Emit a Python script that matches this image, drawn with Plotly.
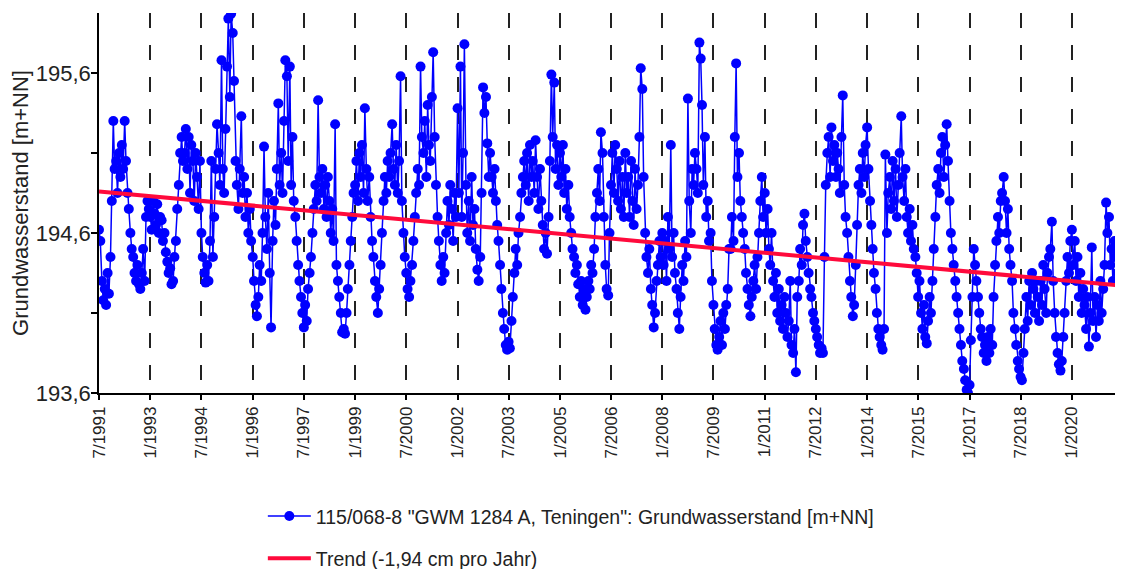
import pandas as pd
import plotly.graph_objects as go

# ---- groundwater level readings (m+NN), semi-monthly (1st and 15th) ----
y1991 = [194.62, 194.55, 194.30, 194.18, 194.25, 194.15, 194.35, 194.22, 194.45, 194.80, 195.30, 195.00]
y1992 = [195.05, 194.85, 195.10, 194.95, 195.15, 195.00, 195.30, 195.05, 194.85, 194.75, 194.60, 194.50,
         194.45, 194.35, 194.30, 194.40, 194.28, 194.25, 194.35, 194.50, 194.30, 194.70, 194.80, 194.75]
y1993 = [194.70, 194.62, 194.80, 194.72, 194.65, 194.78, 194.60, 194.70, 194.68, 194.55, 194.60, 194.48,
         194.42, 194.35, 194.38, 194.28, 194.30, 194.45, 194.55, 194.75, 194.90, 195.10, 195.20, 195.05]
y1994 = [195.10, 195.25, 195.00, 195.20, 194.85, 195.15, 195.05, 194.80, 195.10, 194.95, 194.75, 195.05,
         194.60, 194.45, 194.35, 194.29, 194.40, 194.30, 194.55, 195.05, 194.45, 194.70, 195.00, 195.28]
y1995 = [195.10, 194.90, 195.68, 195.00, 194.85, 195.25, 195.64, 195.94, 195.45, 195.97, 195.85, 195.55,
         195.05, 194.90, 194.75, 195.00, 195.33, 194.85, 194.95, 194.70, 194.85, 194.60, 194.75, 194.55]
y1996 = [194.45, 194.30, 194.15, 194.08, 194.20, 194.40, 194.30, 194.60, 195.14, 194.70, 194.50, 194.85,
         194.35, 194.01, 194.55, 194.80, 194.65, 195.00, 195.41, 194.90, 195.10, 194.85, 195.30, 195.68]
y1997 = [195.58, 195.05, 195.64, 194.90, 195.20, 194.80, 194.70, 194.55, 194.40, 194.30, 194.20, 194.10,
         194.01, 194.15, 194.05, 194.25, 194.35, 194.45, 194.60, 194.75, 194.90, 194.80, 195.43, 194.95]
y1998 = [194.85, 195.00, 194.75, 194.90, 194.70, 194.95, 194.80, 194.60, 194.75, 194.55, 195.28, 194.40,
         194.30, 194.20, 194.10, 193.98, 194.00, 193.97, 194.10, 194.25, 194.40, 194.55, 194.70, 194.85]
y1999 = [194.90, 195.05, 194.80, 195.10, 194.95, 195.15, 194.85, 195.38, 195.00, 194.80, 194.95, 194.70,
         194.55, 194.45, 194.30, 194.20, 194.10, 194.25, 194.40, 194.60, 194.80, 194.95, 194.85, 195.05]
y2000 = [194.95, 195.10, 195.28, 195.00, 194.90, 195.15, 194.85, 195.05, 195.58, 194.80, 194.60, 194.45,
         194.35, 194.25, 194.20, 194.30, 194.40, 194.55, 194.70, 194.85, 195.00, 194.90, 195.64, 195.20]
y2001 = [195.10, 195.30, 194.95, 195.40, 195.15, 195.05, 195.45, 195.73, 195.20, 194.90, 194.70, 194.55,
         194.40, 194.30, 194.45, 194.35, 194.60, 194.80, 194.65, 194.90, 194.75, 194.55, 194.85, 194.70]
y2002 = [195.38, 194.85, 195.64, 194.70, 195.10, 195.78, 194.90, 194.60, 194.80, 194.55, 194.95, 194.65,
         194.75, 194.50, 194.37, 194.30, 194.45, 194.85, 195.51, 195.35, 195.45, 195.16, 194.95, 195.10]
y2003 = [194.95, 194.85, 195.00, 194.80, 194.65, 194.55, 194.40, 194.25, 194.10, 194.00, 193.90, 193.87,
         193.92, 193.88, 194.05, 194.20, 194.35, 194.50, 194.40, 194.60, 194.70, 194.85, 194.95, 195.05]
y2004 = [194.90, 195.10, 194.80, 195.15, 194.95, 195.05, 194.85, 195.18, 194.95, 194.75, 195.00, 194.80,
         194.65, 194.50, 194.60, 194.47, 194.70, 195.05, 195.59, 195.20, 195.54, 195.00, 195.15, 194.90]
y2005 = [195.10, 194.95, 195.15, 194.85, 195.00, 194.75, 194.90, 194.70, 194.60, 194.50, 194.45, 194.35,
         194.40, 194.28, 194.20, 194.30, 194.15, 194.25, 194.12, 194.20, 194.30, 194.25, 194.40, 194.35]
y2006 = [194.50, 194.70, 194.85, 195.00, 194.80, 195.23, 195.10, 194.70, 194.40, 194.25, 194.21, 194.60,
         194.90, 195.10, 194.85, 195.15, 195.00, 194.80, 195.05, 194.75, 194.95, 194.70, 195.10, 194.85]
y2007 = [194.95, 194.70, 195.05, 194.80, 194.65, 195.00, 194.75, 194.90, 195.20, 195.63, 195.50, 194.95,
         194.60, 194.45, 194.35, 194.50, 194.25, 194.15, 194.01, 194.10, 194.30, 194.40, 194.55, 194.45]
y2008 = [194.60, 194.40, 194.55, 194.30, 194.70, 194.50, 195.15, 194.45, 194.60, 194.35, 194.25, 194.10,
         194.00, 194.20, 194.40, 194.30, 194.55, 194.45, 195.44, 194.80, 194.60, 195.00, 194.90, 195.10]
y2009 = [195.00, 194.85, 195.79, 195.69, 195.40, 194.90, 195.20, 194.70, 194.80, 194.55, 194.60, 194.30,
         194.15, 194.00, 193.90, 193.87, 193.95, 194.05, 193.90, 194.10, 194.00, 194.15, 194.25, 194.50]
y2010 = [194.50, 194.70, 194.55, 195.20, 195.66, 194.95, 195.10, 194.80, 194.70, 194.60, 194.50, 194.35,
         194.25, 194.15, 194.08, 194.20, 194.30, 194.40, 194.25, 194.45, 194.60, 194.80, 194.95, 194.70]
y2011 = [194.85, 194.60, 194.75, 194.50, 194.40, 194.60, 194.30, 194.20, 194.35, 194.10, 194.25, 194.05,
         194.15, 194.00, 194.20, 194.10, 193.95, 194.05, 194.30, 193.90, 193.85, 194.00, 193.73, 194.20]
y2012 = [194.30, 194.50, 194.40, 194.65, 194.72, 194.55, 194.45, 194.35, 194.25, 194.20, 194.10, 194.05,
         194.00, 193.95, 193.90, 193.85, 193.88, 193.85, 194.45, 194.90, 195.10, 195.20, 194.95, 195.26]
y2013 = [195.05, 195.15, 194.95, 195.10, 195.00, 194.85, 195.20, 195.46, 194.90, 194.70, 194.60, 194.45,
         194.30, 194.20, 194.08, 194.15, 194.40, 194.65, 194.90, 195.00, 194.85, 195.10, 194.95, 195.15]
y2014 = [195.26, 195.00, 194.80, 194.65, 194.50, 194.35, 194.25, 194.10, 194.00, 193.95, 193.90, 193.87,
         194.00, 195.09, 194.60, 194.85, 194.95, 194.75, 195.05, 194.80, 195.00, 194.70, 194.90, 195.10]
y2015 = [195.33, 194.95, 194.80, 195.00, 194.70, 194.60, 194.75, 194.55, 194.65, 194.50, 194.45, 194.35,
         194.20, 194.30, 194.10, 194.00, 194.15, 193.95, 193.91, 194.05, 194.20, 194.10, 194.30, 194.50]
y2016 = [194.70, 194.90, 195.00, 194.85, 195.10, 195.20, 194.95, 195.15, 195.28, 195.05, 194.80, 194.60,
         194.50, 194.40, 194.30, 194.20, 194.10, 194.00, 193.90, 193.80, 193.75, 193.68, 193.62, 193.60]
y2017 = [193.65, 193.93, 194.20, 194.50, 194.40, 194.30, 194.20, 194.10, 194.00, 193.95, 193.85, 193.90,
         193.80, 193.95, 193.85, 194.00, 193.90, 194.20, 194.40, 194.55, 194.70, 194.60, 194.80, 194.85]
y2018 = [194.95, 194.80, 194.60, 194.75, 194.50, 194.40, 194.30, 194.10, 194.00, 193.90, 193.80, 193.75,
         193.70, 193.68, 193.85, 194.00, 194.20, 194.05, 194.30, 194.15, 194.35, 194.25, 194.10, 194.30]
y2019 = [194.20, 194.05, 194.30, 194.15, 194.40, 194.25, 194.10, 194.35, 194.45, 194.50, 194.67, 194.30,
         194.10, 193.95, 193.85, 193.78, 193.74, 193.80, 193.95, 194.10, 194.30, 194.45, 194.35, 194.55]
y2020 = [194.62, 194.40, 194.55, 194.30, 194.45, 194.20, 194.35, 194.10, 194.25, 194.15, 194.00, 194.20,
         193.89, 194.10, 194.51, 194.05, 194.20, 193.95, 194.15, 194.05, 194.30, 194.10, 194.25, 194.40]
y2021 = [194.79, 194.60, 194.70, 194.40, 194.50, 194.30, 194.55, 194.45, 194.35, 194.50, 194.40]

yearly_levels = [
    (1991, y1991), (1992, y1992), (1993, y1993), (1994, y1994), (1995, y1995), (1996, y1996),
    (1997, y1997), (1998, y1998), (1999, y1999), (2000, y2000), (2001, y2001), (2002, y2002),
    (2003, y2003), (2004, y2004), (2005, y2005), (2006, y2006), (2007, y2007), (2008, y2008),
    (2009, y2009), (2010, y2010), (2011, y2011), (2012, y2012), (2013, y2013), (2014, y2014),
    (2015, y2015), (2016, y2016), (2017, y2017), (2018, y2018), (2019, y2019), (2020, y2020),
    (2021, y2021),
]

# trend line end points (m+NN)
trend_dates = ["1991-07-01", "2021-07-01"]
trend_values = [194.86, 194.27]

# x tick labels (month/year)
x_tick_labels = ["7/1991", "1/1993", "7/1994", "1/1996", "7/1997", "1/1999", "7/2000", "1/2002",
                 "7/2003", "1/2005", "7/2006", "1/2008", "7/2009", "1/2011", "7/2012", "1/2014",
                 "7/2015", "1/2017", "7/2018", "1/2020"]
y_tick_values = [193.6, 194.1, 194.6, 195.1, 195.6]
y_tick_labels = ["193,6", "", "194,6", "", "195,6"]

series_name = '115/068-8 "GWM 1284 A, Teningen": Grundwasserstand [m+NN]'
trend_name = "Trend (-1,94 cm pro Jahr)"

# ---- build ----
dates, values = [], []
for year, vals in yearly_levels:
    start = f"{year}-07-01" if year == 1991 else f"{year}-01-01"
    d = pd.date_range(start, periods=len(vals), freq="SMS")
    dates.extend(list(d))
    values.extend(vals)

x_tick_vals = [pd.Timestamp(year=int(t.split("/")[1]), month=int(t.split("/")[0]), day=1)
               for t in x_tick_labels]

FONT = "Liberation Sans, Arial, sans-serif"
TXT = "#222222"

fig = go.Figure()
fig.add_trace(go.Scatter(
    x=dates, y=values, mode="lines+markers", name=series_name,
    line=dict(color="#0000ff", width=1.5),
    marker=dict(color="#0000ff", size=10, line=dict(width=0)),
    legendgroup="a",
))
fig.add_trace(go.Scatter(
    x=trend_dates, y=trend_values, mode="lines", name=trend_name,
    line=dict(color="#ff0a3c", width=4),
    legendgroup="b",
))

# the page body has an 8px margin, so the figure is sized/offset to compensate
fig.update_layout(
    width=1115, height=561,
    margin=dict(l=91, r=0, t=5, b=176, autoexpand=False),
    paper_bgcolor="white", plot_bgcolor="white",
    font=dict(family=FONT, color=TXT),
    showlegend=True,
    legend=dict(
        orientation="v", x=0.160, xanchor="left", y=-0.273, yanchor="top",
        font=dict(size=19.5, family=FONT, color=TXT),
        tracegroupgap=14, itemwidth=43, bgcolor="rgba(0,0,0,0)",
    ),
    xaxis=dict(
        type="date", range=["1991-07-01", "2021-07-01"], automargin=False,
        tickmode="array", tickvals=x_tick_vals, ticktext=x_tick_labels,
        tickangle=-90, tickfont=dict(size=17, family=FONT, color=TXT),
        showline=True, linecolor="black", linewidth=1.5,
        ticks="outside", ticklen=5, tickcolor="black", tickwidth=1.5,
        showgrid=True, gridcolor="#222222", gridwidth=2, griddash="15px,17px",
        zeroline=False,
    ),
    yaxis=dict(
        range=[193.6, 195.975], automargin=False,
        tickmode="array", tickvals=y_tick_values, ticktext=y_tick_labels,
        tickfont=dict(size=22, family=FONT, color=TXT),
        ticklabelstandoff=-4,
        showline=True, linecolor="black", linewidth=1.5,
        ticks="outside", ticklen=6, tickcolor="black", tickwidth=1.5,
        showgrid=False, zeroline=False,
        title=dict(text="Grundwasserstand [m+NN]", font=dict(size=22, family=FONT, color=TXT), standoff=8),
    ),
)

fig.write_html("out.html")
